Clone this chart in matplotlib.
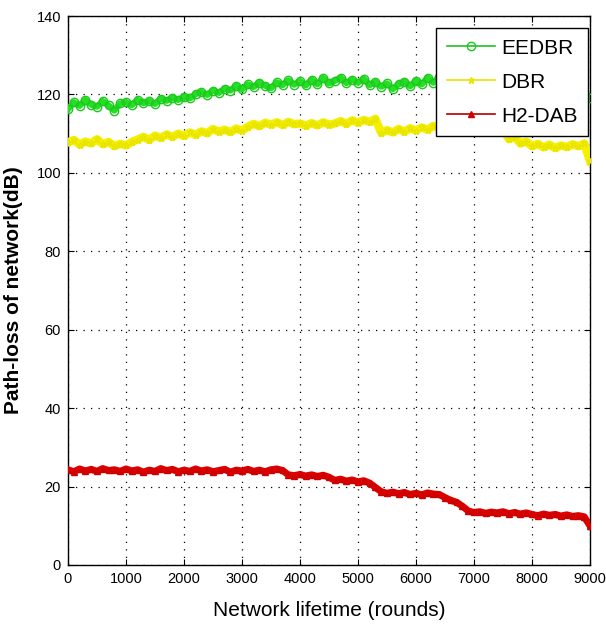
import matplotlib
matplotlib.use("Agg")
import matplotlib.pyplot as plt

rounds = list(range(0, 9001, 100))

eedbr = [116.2, 118.0, 117.1, 118.6, 117.4, 116.9, 118.3, 117.2, 115.9, 117.7,
         118.0, 117.3, 118.6, 117.8, 118.3, 117.6, 118.9, 118.4, 119.2, 118.6,
         119.4, 119.0, 120.1, 120.6, 119.9, 121.0, 120.4, 121.5, 121.0, 122.2,
         121.3, 122.6, 121.9, 123.0, 122.2, 121.6, 123.1, 122.4, 123.6, 122.5,
         123.4, 122.3, 123.8, 122.6, 124.2, 122.8, 123.5, 124.3, 122.9, 123.7,
         123.0, 124.0, 122.4, 123.2, 122.0, 122.8, 121.4, 122.6, 123.3, 122.1,
         123.5, 122.6, 124.3, 123.0, 124.5, 123.2, 123.6, 122.8, 123.9, 123.1,
         123.5, 122.9, 123.8, 123.2, 124.0, 123.4, 123.0, 123.6, 122.8, 123.3,
         122.6, 123.0, 122.4, 122.0, 122.5, 121.6, 121.9, 121.2, 121.0, 120.5,
         119.0]

dbr = [107.8, 108.4, 107.2, 108.0, 107.5, 108.6, 107.3, 107.9, 106.8, 107.4,
       107.0, 107.9, 108.5, 109.2, 108.4, 109.5, 108.9, 109.8, 109.2, 110.0,
       109.4, 110.3, 109.7, 110.6, 110.1, 111.2, 110.5, 111.0, 110.4, 111.3,
       110.8, 111.8, 112.5, 111.9, 112.8, 112.3, 112.9, 112.2, 113.0, 112.4,
       112.6, 112.0, 112.7, 112.1, 112.9, 112.3, 112.6, 113.2, 112.5, 113.4,
       112.8, 113.5, 113.0, 113.8, 110.2, 110.9, 110.3, 111.2, 110.5, 111.4,
       110.8, 111.6, 111.0, 112.0, 111.3, 112.4, 111.5, 111.9, 111.2, 112.0,
       111.4, 111.9, 111.1, 111.6, 110.8, 111.3, 108.6, 109.2, 107.5, 108.0,
       106.8, 107.4, 106.5, 107.2, 106.3, 107.0, 106.6, 107.3, 106.8, 107.5,
       103.0]

h2dab = [24.3, 23.8, 24.5, 24.0, 24.4, 23.9, 24.6, 24.1, 24.3, 23.9,
         24.5, 24.0, 24.3, 23.7, 24.2, 23.9, 24.6, 24.1, 24.4, 23.8,
         24.2, 23.9, 24.5, 24.0, 24.3, 23.8, 24.1, 24.4, 23.7, 24.2,
         24.0, 24.4, 23.9, 24.2, 23.8, 24.3, 24.5, 24.1, 23.0, 22.8,
         23.1, 22.7, 23.0, 22.6, 22.9, 22.4, 21.6, 21.9, 21.4, 21.7,
         21.2, 21.5, 20.9, 19.8, 18.7, 18.3, 18.6, 18.2, 18.5, 18.0,
         18.3, 17.9, 18.4, 18.1, 18.0, 17.2, 16.5, 16.0, 15.0, 13.8,
         13.4, 13.6, 13.2, 13.5, 13.3, 13.6, 13.1, 13.4, 13.0, 13.3,
         12.9, 12.6, 13.0, 12.7, 12.9, 12.5, 12.8, 12.4, 12.6, 12.3,
         10.0]

series_names = ["EEDBR", "DBR", "H2-DAB"]
xticks = [0, 1000, 2000, 3000, 4000, 5000, 6000, 7000, 8000, 9000]
yticks = [0, 20, 40, 60, 80, 100, 120, 140]

fam = "Liberation Sans"

fig = plt.figure(figsize=(6.06, 6.31), dpi=100)
ax = fig.add_axes([0.1122, 0.1046, 0.8614, 0.870])

ax.plot(rounds, eedbr, color="#22e022", lw=4.5, marker="o", ms=6, mfc="none",
        mec="#1fc81f", mew=1.0, label=series_names[0], zorder=3)
ax.plot(rounds, dbr, color="#f5f000", lw=6, marker="*", ms=5,
        mec="#e8e400", mfc="#f5f000", label=series_names[1], zorder=3)
ax.plot(rounds, h2dab, color="#e00000", lw=5, marker="^", ms=4,
        mec="#d00000", mfc="#d00000", label=series_names[2], zorder=3)

ax.set_xlim(0, 9000)
ax.set_ylim(0, 140)
ax.set_xticks(xticks)
ax.set_yticks(yticks)
ax.set_xticklabels([str(t) for t in xticks], fontfamily=fam, fontsize=10.5)
ax.set_yticklabels([str(t) for t in yticks], fontfamily=fam, fontsize=10.5)
ax.tick_params(direction="in", length=4, width=0.8, top=True, right=True, pad=5)

ax.grid(True, color="black", linestyle=(0, (1, 5)), linewidth=0.9)
for s in ax.spines.values():
    s.set_linewidth(1.0)

ax.set_xlabel("Network lifetime (rounds)", fontfamily=fam, fontsize=15)
ax.xaxis.set_label_coords(0.5, -0.065)
ax.set_ylabel("Path-loss of network(dB)", fontfamily=fam,
              fontsize=15, fontweight="bold")
ax.yaxis.set_label_coords(-0.087, 0.5)

leg = ax.legend(loc="upper right", bbox_to_anchor=(0.996, 0.978), borderaxespad=0,
                frameon=True, fancybox=False, edgecolor="black", framealpha=1,
                prop={"family": fam, "size": 15}, handlelength=2.3,
                labelspacing=0.72, borderpad=0.5, handletextpad=0.3)
leg.get_frame().set_linewidth(1.0)
for h, c in zip(leg.get_lines(), ["#22c022", "#e8e400", "#b00000"]):
    h.set_linewidth(1.2)
    h.set_color(c)

fig.savefig("out.png", dpi=100)
